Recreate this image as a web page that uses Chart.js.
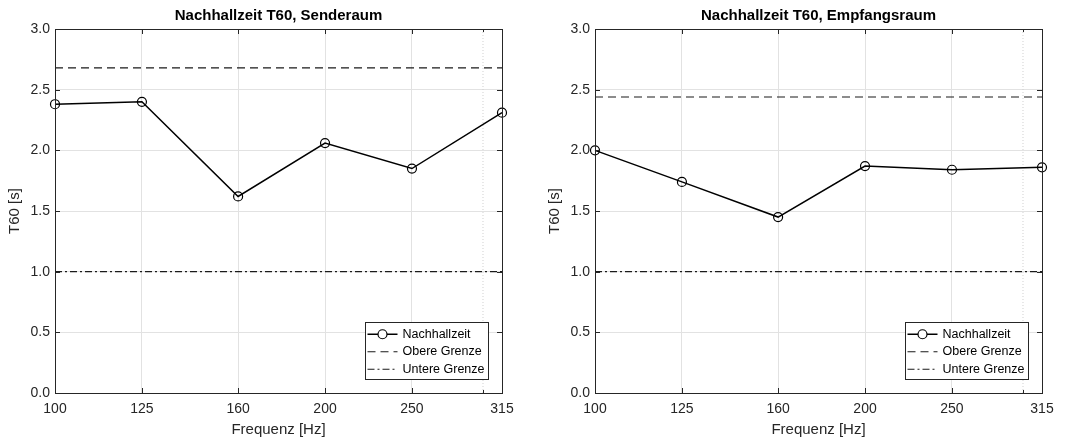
<!DOCTYPE html>
<html>
<head>
<meta charset="utf-8">
<script src="https://cdn.jsdelivr.net/npm/chart.js@4.4.1/dist/chart.umd.min.js"></script>
<style>
  html, body { margin: 0; padding: 0; background: #ffffff; }
  .wrap { position: absolute; top: 0; width: 540px; height: 442px; }
  #w1 { left: 0; }
  #w2 { left: 540px; }
</style>
</head>
<body>
<div class="wrap" id="w1"><canvas id="c1"></canvas></div>
<div class="wrap" id="w2"><canvas id="c2"></canvas></div>
<script>
// Terzbänder
const freqs = [100, 125, 160, 200, 250, 315];
const xTicks = [100, 125, 160, 200, 250, 315];
const yTicks = [0, 0.5, 1.0, 1.5, 2.0, 2.5, 3.0];
const minorX = [300];

// Senderaum
const t60Sender = [2.38, 2.40, 1.62, 2.06, 1.85, 2.31];
const upperSender = 2.68;
const lowerSender = 1.0;

// Empfangsraum
const t60Empf = [2.00, 1.74, 1.45, 1.87, 1.84, 1.86];
const upperEmpf = 2.44;
const lowerEmpf = 1.0;

const FONT = "'Liberation Sans', Arial, Helvetica, sans-serif";
const TXT = '#262626';
const DASH = [8, 5];
const DASHDOT = [7, 3, 2, 3];

// Rahmen, innere Ticks, Titel und Legende im MATLAB-Stil
const matlabBox = {
    id: 'matlabBox',
    afterDraw(chart, args, opts) {
        const ctx = chart.ctx;
        const a = chart.chartArea;
        const xs = chart.scales.x, ys = chart.scales.y;
        ctx.save();
        ctx.strokeStyle = TXT;
        ctx.lineWidth = 1;
        ctx.setLineDash([]);
        ctx.strokeRect(Math.round(a.left) + 0.5, Math.round(a.top) + 0.5,
            Math.round(a.right - a.left), Math.round(a.bottom - a.top));
        // Ticks nach innen
        const tl = 5;
        ctx.beginPath();
        xTicks.concat(minorX).forEach(v => {
            const px = Math.round(xs.getPixelForValue(v)) + 0.5;
            const len = minorX.includes(v) ? 3 : tl;
            ctx.moveTo(px, a.bottom); ctx.lineTo(px, a.bottom - len);
            ctx.moveTo(px, a.top); ctx.lineTo(px, a.top + len);
        });
        yTicks.forEach(v => {
            const py = Math.round(ys.getPixelForValue(v)) + 0.5;
            ctx.moveTo(a.left, py); ctx.lineTo(a.left + tl, py);
            ctx.moveTo(a.right, py); ctx.lineTo(a.right - tl, py);
        });
        ctx.stroke();

        // Titel über der Achse zentriert
        ctx.fillStyle = '#000';
        ctx.font = 'bold 15px ' + FONT;
        ctx.textAlign = 'center';
        ctx.textBaseline = 'middle';
        ctx.fillText(opts.title, (a.left + a.right) / 2, 16);

        // Legende unten rechts
        const items = chart.data.datasets.filter(d => d.legend);
        ctx.font = '12.5px ' + FONT;
        const tw = Math.max(...items.map(d => ctx.measureText(d.label).width));
        const rowH = 17.5;
        const bw = Math.round(tw + 41);
        const bh = Math.round(items.length * rowH + 4);
        const bx = Math.round(a.right - 14 - bw) + 0.5;
        const by = Math.round(a.bottom - 14 - bh) + 0.5;
        ctx.fillStyle = '#fff';
        ctx.fillRect(bx, by, bw, bh);
        ctx.strokeStyle = TXT;
        ctx.lineWidth = 1;
        ctx.strokeRect(bx, by, bw, bh);
        items.forEach((d, i) => {
            const cy = by + 2 + rowH * (i + 0.5) + 1;
            ctx.strokeStyle = d.borderColor;
            ctx.lineWidth = d.borderWidth;
            ctx.setLineDash(d.borderDash || []);
            ctx.beginPath();
            ctx.moveTo(bx + 2, cy); ctx.lineTo(bx + 32, cy);
            ctx.stroke();
            ctx.setLineDash([]);
            if (d.pointRadius > 0) {
                ctx.beginPath();
                ctx.arc(bx + 17, cy, d.pointRadius, 0, Math.PI * 2);
                ctx.fillStyle = '#fff';
                ctx.fill();
                ctx.lineWidth = 1.2;
                ctx.stroke();
            }
            ctx.fillStyle = '#000';
            ctx.textAlign = 'left';
            ctx.textBaseline = 'middle';
            ctx.fillText(d.label, bx + 37, cy);
        });
        ctx.restore();
    }
};

function buildDatasets(values, upper, lower) {
    return [
        {
            label: 'minor', legend: false,
            data: [{ x: minorX[0], y: 0 }, { x: minorX[0], y: 3 }],
            borderColor: '#d0d0d0', borderWidth: 1, borderDash: [1, 2],
            pointRadius: 0, order: 5
        },
        {
            label: 'Nachhallzeit', legend: true,
            data: freqs.map((f, i) => ({ x: f, y: values[i] })),
            borderColor: '#000', borderWidth: 1.5,
            pointRadius: 4.5, pointBorderWidth: 1.2,
            pointBackgroundColor: 'rgba(0,0,0,0)', pointBorderColor: '#000',
            clip: false,
            order: 1
        },
        {
            label: 'Obere Grenze', legend: true,
            data: [{ x: freqs[0], y: upper }, { x: freqs[freqs.length - 1], y: upper }],
            borderColor: '#1a1a1a', borderWidth: 1.1, borderDash: DASH,
            pointRadius: 0, order: 2
        },
        {
            label: 'Untere Grenze', legend: true,
            data: [{ x: freqs[0], y: lower }, { x: freqs[freqs.length - 1], y: lower }],
            borderColor: '#1a1a1a', borderWidth: 1.1, borderDash: DASHDOT,
            pointRadius: 0, order: 3
        }
    ];
}

function makeChart(id, title, values, upper, lower) {
    return new Chart(document.getElementById(id), {
        type: 'line',
        data: { datasets: buildDatasets(values, upper, lower) },
        plugins: [matlabBox],
        options: {
            responsive: true,
            maintainAspectRatio: false,
            animation: false,
            layout: { padding: { top: 29, right: 38, left: 0, bottom: 0 } },
            plugins: {
                legend: { display: false },
                tooltip: { enabled: false },
                title: { display: false },
                matlabBox: { title: title }
            },
            scales: {
                x: {
                    type: 'logarithmic',
                    min: 100, max: 315,
                    afterBuildTicks: s => { s.ticks = xTicks.map(v => ({ value: v })); },
                    afterFit: s => { s.height = 49; },
                    grid: { color: '#e2e2e2', drawTicks: false },
                    border: { display: false },
                    ticks: {
                        color: TXT, padding: 8,
                        font: { family: FONT, size: 14 },
                        maxRotation: 0, autoSkip: false,
                        callback: v => String(v)
                    },
                    title: {
                        display: true, text: 'Frequenz [Hz]', color: TXT,
                        font: { family: FONT, size: 15 },
                        padding: { top: 0, bottom: 3 }
                    }
                },
                y: {
                    min: 0, max: 3,
                    afterBuildTicks: s => { s.ticks = yTicks.map(v => ({ value: v })); },
                    afterFit: s => { s.width = 55; },
                    grid: { color: '#e2e2e2', drawTicks: false },
                    border: { display: false },
                    ticks: {
                        color: TXT, padding: 5,
                        font: { family: FONT, size: 14 },
                        callback: v => Number(v).toFixed(1)
                    },
                    title: {
                        display: true, text: 'T60 [s]', color: TXT,
                        font: { family: FONT, size: 15 },
                        padding: { top: 6, bottom: 0 }
                    }
                }
            }
        }
    });
}

makeChart('c1', 'Nachhallzeit T60, Senderaum', t60Sender, upperSender, lowerSender);
makeChart('c2', 'Nachhallzeit T60, Empfangsraum', t60Empf, upperEmpf, lowerEmpf);
</script>
</body>
</html>
